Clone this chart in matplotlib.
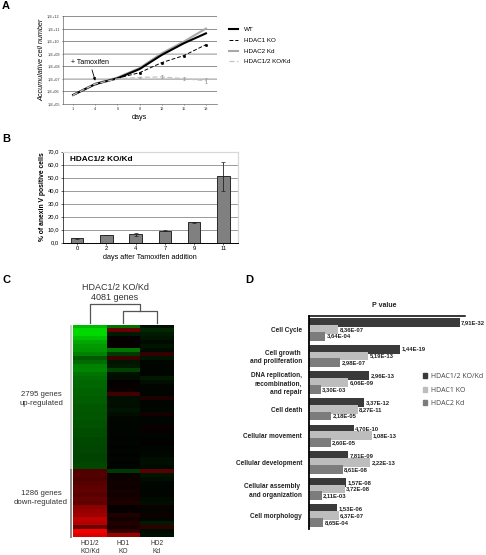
import numpy as np
import matplotlib
matplotlib.use('Agg')
import matplotlib.pyplot as plt
from matplotlib.colors import LinearSegmentedColormap
from matplotlib.patches import Patch

W, H = 486, 555

# panel A, log10 of cell number
days_a = ['1', '4', '6', '8', '12', '15', '18']
wt = [5.72, 6.58, 7.04, 7.78, 8.90, 9.83, 10.62]
hd1_ko = [5.72, 6.55, 7.05, 7.49, 8.29, 8.85, 9.72]
hd2_kd = [5.72, 6.62, 7.10, 7.85, 9.03, 9.96, 11.00]
hd12 = [5.72, 6.60, 7.00, 7.12, 7.15, 7.02, 6.85]
hd12_err = [0.02, 0.05, 0.04, 0.05, 0.12, 0.15, 0.18]
ticks_a = ['1,E+05', '1,E+06', '1,E+07', '1,E+08', '1,E+09', '1,E+10', '1,E+11', '1,E+12']

# panel B
days_b = ['0', '2', '4', '7', '9', '11']
annexin = [3.2, 5.8, 6.3, 9.2, 15.5, 51.0]
annexin_err = [0.4, 0.3, 1.2, 0.4, 0.2, 11.0]

# panel C, one value per band, top to bottom (green = up, red = down)
heat_hd12 = [.72, .85, .85, .75, .65, .60, .58, .50, .35, .42, .50, .52, .45, .42,
             .40, .40, .38, .38, .36, .36, .34, .34, .33, .34, .32, .32, .30, .30,
             .28, .28, .27, .27, .26, .26, .27, .28,
             -.32, -.33, -.30, -.34, -.36, -.38, -.34, -.40, -.36,
             -.55, -.58, -.62, -.75, -.70, -.42, -.95, -.85]
heat_hd1 = [.45, -.40, .10, -.03, -.02, -.03, .45, .22, -.25, .08, .10, .25, .06, .05,
            -.02, -.03, -.04, -.25, .05, .06, .05, .08, .05, .03, .02, .02, .02, .02,
            .01, .02, .01, .02, .01, .02, .01, .02,
            .22, -.04, -.05, -.07, -.05, -.08, -.07, -.10, -.12,
            -.02, -.03, -.13, -.07, -.14, -.10, -.20, -.60]
heat_hd2 = [.06, .16, .10, .08, .04, .08, .04, -.20, .08, .02, .02, .02, .02, .10,
            .05, .02, .02, .02, -.12, .02, .02, .03, -.08, .02, .02, -.04, -.03, .02,
            .01, -.02, .02, .02, .03, .05, .06, .04,
            -.35, .08, .05, .03, .02, .02, .02, .04, .05,
            -.05, .02, -.06, .02, .10, -.18, .04, .06]
heat_cols = ['HD1/2\nKO/Kd', 'HD1\nKO', 'HD2\nKd']
n_up = 36

# panel D
categories = ['Cell Cycle', 'Cell growth \nand proliferation',
              'DNA replication,\nrecombination,\nand repair', 'Cell death',
              'Cellular movement', 'Cellular development',
              'Cellular assembly \nand organization', 'Cell morphology']
p_hd12 = ['7,91E-32', '1,44E-19', '2,96E-13', '3,37E-12', '4,70E-10', '7,81E-09', '1,57E-08', '1,53E-06']
p_hd1 = ['8,36E-07', '5,19E-13', '6,06E-09', '8,27E-11', '1,08E-13', '2,22E-13', '3,72E-08', '6,37E-07']
p_hd2 = ['3,64E-04', '2,98E-07', '3,30E-03', '2,18E-05', '2,60E-05', '8,61E-08', '2,11E-03', '8,65E-04']

plt.rcParams['font.family'] = ['Liberation Sans', 'DejaVu Sans']


def px_axes(x0, y0, x1, y1):
    # rectangle given in image pixels, y from the top
    return fig.add_axes([x0 / W, 1 - y1 / H, (x1 - x0) / W, (y1 - y0) / H])


def px_text(x, y, s, **kw):
    kw.setdefault('va', 'center')
    fig.text(x / W, 1 - y / H, s, **kw)


fig = plt.figure(figsize=(W / 100, H / 100), dpi=100)

for lab, x, y in [('A', 2, 6), ('B', 2, 139), ('C', 2, 280), ('D', 245, 280)]:
    px_text(x, y, lab, fontsize=8, fontweight='bold')

# A: growth curves
ax = px_axes(62.5, 16, 217, 104)
xa = np.arange(len(days_a))
y12 = np.power(10.0, hd12)
e12 = np.power(10.0, np.array(hd12_err))
ax.plot(xa, np.power(10.0, hd2_kd), color='#a8a8a8', lw=1.5, label='HDAC2 Kd', zorder=3)
ax.plot(xa, np.power(10.0, wt), color='black', lw=1.5, label='WT', zorder=4)
ax.plot(xa, np.power(10.0, hd1_ko), color='black', lw=0.7, ls=(0, (4, 2)), label='HDAC1 KO', zorder=4)
ax.plot(xa[3:], np.power(10.0, hd1_ko)[3:], ls='none', marker='s', ms=1, color='black', zorder=4)
ax.plot(xa, y12, color='#c4c4c4', lw=0.9, ls=(0, (4, 2)), label='HDAC1/2 KO/Kd', zorder=5)
ax.errorbar(xa, y12, yerr=[y12 - y12 / e12, y12 * e12 - y12], ls='none', ecolor='#999999',
            elinewidth=0.5, capsize=1, capthick=0.5, zorder=5)
ax.set_yscale('log')
ax.set_ylim(1e5, 1e12)
ax.set_xlim(-0.48, 6.5)
ax.set_yticks([10.0 ** e for e in range(5, 13)])
ax.set_yticklabels(ticks_a)
ax.minorticks_off()
ax.set_xticks(xa)
ax.set_xticklabels(days_a)
ax.tick_params(labelsize=2.8, length=1, width=0.4, pad=1, colors='#333333')
ax.grid(axis='y', color='#8f8f8f', lw=0.7)
ax.set_axisbelow(True)
ax.spines[['top', 'right']].set_visible(False)
for s in ['left', 'bottom']:
    ax.spines[s].set_color('#666666')
    ax.spines[s].set_linewidth(0.5)
for g in [1e7, 1e9]:
    ax.axhline(g, color='#c8c8c8', lw=1.1, zorder=1)
ax.set_xlabel('days', fontsize=5.2, labelpad=2.5)
ax.set_ylabel('Accumulative cell number', fontsize=5.2, style='italic', labelpad=1.5)
ax.annotate('+ Tamoxifen', xy=(1, 10 ** 6.85), xytext=(0.75, 10 ** 8.2), fontsize=5, ha='center',
            arrowprops=dict(arrowstyle='-|>', lw=0.6, color='black', mutation_scale=4, shrinkA=1, shrinkB=0))
handles, labels = ax.get_legend_handles_labels()
order = [labels.index(n) for n in ['WT', 'HDAC1 KO', 'HDAC2 Kd', 'HDAC1/2 KO/Kd']]
ax.legend([handles[i] for i in order], [labels[i] for i in order], loc='upper left',
          bbox_to_anchor=(229 / W, 1 - 27 / H), bbox_transform=fig.transFigure, frameon=False,
          fontsize=4.5, handlelength=1.4, handletextpad=1.0, labelspacing=0.85, borderpad=0, borderaxespad=0)

# B: annexin V bars
ax = px_axes(62.5, 151.5, 238, 242.5)
xb = np.arange(len(days_b))
ax.bar(xb, annexin, width=0.43, color='#808080', edgecolor='#2a2a2a', lw=0.7, zorder=3,
       yerr=annexin_err, ecolor='#222222', error_kw=dict(lw=0.6, capsize=1.4, capthick=0.5, zorder=4))
ax.set_xlim(-0.5, 5.5)
ax.set_ylim(0, 70)
ax.set_yticks(np.arange(0, 71, 10))
ax.yaxis.set_major_formatter(plt.FuncFormatter(lambda v, _: ('%.1f' % v).replace('.', ',')))
ax.set_xticks(xb)
ax.set_xticklabels(days_b)
ax.tick_params(labelsize=4.2, length=1.5, width=0.4, pad=1)
ax.grid(axis='y', color='#8a8a8a', lw=0.6)
ax.set_axisbelow(True)
for s in ['top', 'right']:
    ax.spines[s].set_color('#d8d8d8')
    ax.spines[s].set_linewidth(0.9)
ax.spines['left'].set_linewidth(0.5)
ax.spines['bottom'].set_linewidth(0.7)
ax.set_xlabel('days after Tamoxifen addition', fontsize=5.2, labelpad=2)
ax.set_ylabel('% of anexin V positive cells', fontsize=4.9, fontweight='bold', labelpad=1)
ax.text(0.04, 0.915, 'HDAC1/2 KO/Kd', transform=ax.transAxes, fontsize=5.9, fontweight='bold', va='center',
        bbox=dict(fc='white', ec='none', pad=0.8))

# C: heatmap with dendrogram
heat = np.array([heat_hd12, heat_hd1, heat_hd2]).T
rows = heat.shape[0]
rgb = LinearSegmentedColormap.from_list('rbg', ['#ff0000', '#000000', '#00ff00'])
ax = px_axes(73, 325, 173.5, 537.5)
ax.imshow(heat, cmap=rgb, vmin=-1, vmax=1, aspect='auto', interpolation='nearest')
ax.set_xticks(range(3))
ax.set_xticklabels(heat_cols, fontsize=4.8, linespacing=1.05, color='#333333')
ax.set_yticks([])
ax.tick_params(length=0, pad=2)
for s in ax.spines.values():
    s.set_visible(False)

# tree above the columns, drawn in column / axes-height units
tree = ax.get_xaxis_transform()
base, lo, hi = 1 + 2 / 212.5, 1 + 14 / 212.5, 1 + 21 / 212.5
mid = 1.5
ax.plot([1, 1, 2, 2], [base, lo, lo, base], color='#555555', lw=0.9, transform=tree, clip_on=False)
ax.plot([0, 0, mid, mid], [base, hi, hi, lo], color='#555555', lw=0.9, transform=tree, clip_on=False)
px_text(115, 288, 'HDAC1/2 KO/Kd', fontsize=6.5, ha='center', color='#333333')
px_text(115, 298, '4081 genes', fontsize=6.5, ha='center', color='#333333')
px_text(41, 399, '2795 genes\nup-regulated', fontsize=5.6, ha='center', color='#333333', linespacing=1.25)
px_text(41, 498, '1286 genes\ndown-regulated', fontsize=5.6, ha='center', color='#333333', linespacing=1.25)
side = px_axes(70, 325, 72.5, 537.5)
side.set_xlim(0, 1)
side.set_ylim(rows - 0.5, -0.5)
side.axis('off')
side.plot([0.5, 0.5], [-0.5, n_up - 0.6], color='#d0d0d0', lw=1.5)
side.plot([0.5, 0.5], [n_up - 0.4, rows - 0.5], color='#8c8c8c', lw=1.5)

# D: enrichment bars, length = -log10(p)
ax = px_axes(308.5, 316, 465, 529)
yd = np.arange(len(categories))
step = 0.256
series = [(p_hd12, '#3a3a3a', 'HDAC1/2 KO/Kd', -step), (p_hd1, '#bdbdbd', 'HDAC1 KO', 0), (p_hd2, '#7c7c7c', 'HDAC2 Kd', step)]
for vals, col, name, off in series:
    p = np.array([float(v.replace(',', '.')) for v in vals])
    length = -np.log10(p)
    ax.barh(yd + off, length, height=0.33, color=col, edgecolor='none', label=name)
    for yy, ll, s in zip(yd + off, length, vals):
        ax.text(ll + 0.3, yy, s, fontsize=4.2, fontweight='bold', va='center', color='#222222', clip_on=False)
ax.set_xlim(0, 32.2)
ax.set_ylim(7.5, -0.5)
ax.set_xticks([])
ax.set_yticks(yd)
ax.set_yticklabels(categories, fontsize=4.7, fontweight='bold', linespacing=1.3, color='#222222')
ax.tick_params(axis='y', length=0, pad=4.5)
ax.spines[['right', 'bottom']].set_visible(False)
ax.spines['left'].set_linewidth(1.3)
ax.spines['top'].set_linewidth(1.1)
px_text(384, 305.5, 'P value', fontsize=5, fontweight='bold', ha='center', color='#222222')
ax.legend(handles=[Patch(color=c, label=n) for _, c, n, _ in series], loc='upper left',
          bbox_to_anchor=(422.5 / W, 1 - 373 / H), bbox_transform=fig.transFigure, frameon=False,
          prop=dict(family='Open Sans', size=5), labelcolor='#444444', handlelength=0.7, handleheight=0.7,
          handletextpad=0.5, labelspacing=0.95, borderpad=0, borderaxespad=0)

fig.savefig('out.png', dpi=100)
